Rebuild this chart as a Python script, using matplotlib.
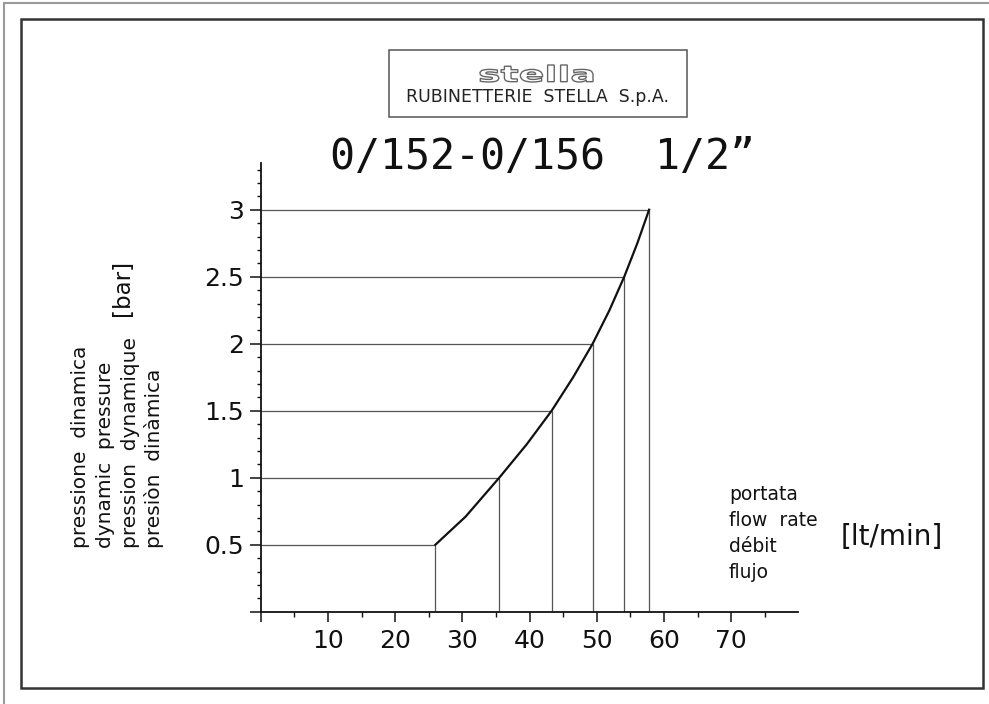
import matplotlib
matplotlib.use("Agg")
import matplotlib.pyplot as plt
from matplotlib.patches import Rectangle, PathPatch
from matplotlib.lines import Line2D
from matplotlib.textpath import TextPath
from matplotlib.font_manager import FontProperties
from matplotlib.transforms import Affine2D

# ---- data ----
pressure_levels = [0.5, 1.0, 1.5, 2.0, 2.5, 3.0]
flow_at_levels = [26.0, 35.5, 43.3, 49.4, 54.1, 57.8]
curve_flow = [26.0, 30.5, 35.5, 39.6, 43.3, 46.5, 49.4, 51.9, 54.1, 56.05, 57.8]
curve_pressure = [0.5, 0.71, 1.0, 1.25, 1.5, 1.75, 2.0, 2.25, 2.5, 2.75, 3.0]
x_major_ticks = [0, 10, 20, 30, 40, 50, 60, 70]
x_tick_labels = ["", "10", "20", "30", "40", "50", "60", "70"]
x_minor_ticks = [5, 15, 25, 35, 45, 55, 65, 75]
y_major_ticks = [0, 0.5, 1.0, 1.5, 2.0, 2.5, 3.0]
y_tick_labels = ["", "0.5", "1", "1.5", "2", "2.5", "3"]
y_minor_ticks = [i / 10 for i in range(1, 34)]
title_text = "0/152-0/156  1/2\u201d"
company_text = "RUBINETTERIE  STELLA  S.p.A."
logo_text = "stella"
y_label_lines = ["pressione  dinamica", "dynamic  pressure", "pression  dynamique", "presiòn  dinàmica"]
y_unit = "[bar]"
x_label_lines = ["portata", "flow  rate", "débit", "flujo"]
x_unit = "[lt/min]"

W, H = 989, 704
fig = plt.figure(figsize=(W / 100, H / 100), dpi=100)
fig.patch.set_facecolor("white")

def fx(px):
    return px / W

def fy(py):
    return 1 - py / H

# ---- frames ----
fig.add_artist(Line2D([fx(4), fx(4)], [fy(3), fy(704)], color="#9a9a9a", lw=1.5))
fig.add_artist(Line2D([fx(4), fx(989)], [fy(3), fy(3)], color="#9a9a9a", lw=1.5))
fig.add_artist(Rectangle((fx(21), fy(688)), fx(983) - fx(21), fy(19) - fy(688),
                         fill=False, edgecolor="#333333", lw=1.8, transform=fig.transFigure))

# ---- logo box ----
fig.add_artist(Rectangle((fx(389), fy(117)), fx(687) - fx(389), fy(50) - fy(117),
                         fill=False, edgecolor="#555555", lw=1.1, transform=fig.transFigure))
fig.text(fx(537), fy(97), company_text, ha="center", va="center", fontsize=12.5,
         color="#222222", family="DejaVu Sans")
tp = TextPath((0, 0), logo_text, size=20, prop=FontProperties(family="DejaVu Sans", weight="bold"))
ext = tp.get_extents()
lx0, lx1, ly0, ly1 = 480, 593, 82, 65
tr = (Affine2D().translate(-ext.x0, -ext.y0)
      .scale((fx(lx1) - fx(lx0)) / ext.width, (fy(ly1) - fy(ly0)) / ext.height)
      .translate(fx(lx0), fy(ly0)) + fig.transFigure)
fig.add_artist(PathPatch(tp, facecolor="white", edgecolor="#666666", lw=1.0, transform=tr))

# ---- title ----
fig.text(fx(543), fy(157), title_text, ha="center", va="center", fontsize=30,
         family="DejaVu Sans Mono", color="#111111")

# ---- axes ----
x0_px, y0_px = 260.7, 611.7
px_per_x = 6.72
px_per_y = 134.0
xmax, ymax = 80, 3.35
ax = fig.add_axes([fx(x0_px), fy(y0_px), xmax * px_per_x / W, ymax * px_per_y / H])
ax.set_xlim(0, xmax)
ax.set_ylim(0, ymax)
ax.set_facecolor("none")
for s in ("top", "right"):
    ax.spines[s].set_visible(False)
for s in ("left", "bottom"):
    ax.spines[s].set_color("#111111")
    ax.spines[s].set_linewidth(1.3)

ax.set_xticks(x_major_ticks)
ax.set_xticklabels(x_tick_labels)
ax.set_xticks(x_minor_ticks, minor=True)
ax.set_yticks(y_major_ticks)
ax.set_yticklabels(y_tick_labels)
ax.set_yticks(y_minor_ticks, minor=True)
ax.tick_params(axis="x", which="major", direction="out", length=7.2, width=1.1,
               color="#111111", labelsize=18, pad=5.5, labelcolor="#111111")
ax.tick_params(axis="x", which="minor", direction="out", length=3.6, width=1.0, color="#111111")
ax.tick_params(axis="y", which="major", direction="out", length=7.9, width=1.1,
               color="#111111", labelsize=18, pad=4, labelcolor="#111111")
ax.tick_params(axis="y", which="minor", direction="out", length=2.9, width=1.0, color="#111111")

# guide lines
for q, p in zip(flow_at_levels, pressure_levels):
    ax.plot([0, q], [p, p], color="#555555", lw=0.9, solid_capstyle="butt")
    ax.plot([q, q], [0, p], color="#555555", lw=0.9, solid_capstyle="butt")

# curve
ax.plot(curve_flow, curve_pressure, color="#111111", lw=1.6, solid_joinstyle="round")

# ---- axis label texts ----
for i, line in enumerate(y_label_lines):
    fig.text(fx(81 + i * 24.5), fy(548), line, rotation=90, rotation_mode="anchor",
             ha="left", va="center", fontsize=14.5, color="#111111")
fig.text(fx(123), fy(288), y_unit, rotation=90, rotation_mode="anchor",
         ha="center", va="center", fontsize=16.5, color="#111111")

for i, line in enumerate(x_label_lines):
    fig.text(fx(729), fy(495 + i * 25.8), line, ha="left", va="center",
             fontsize=13.5, color="#111111")
fig.text(fx(892), fy(537), x_unit, ha="center", va="center", fontsize=20, color="#111111")

fig.savefig("out.png", dpi=100)
